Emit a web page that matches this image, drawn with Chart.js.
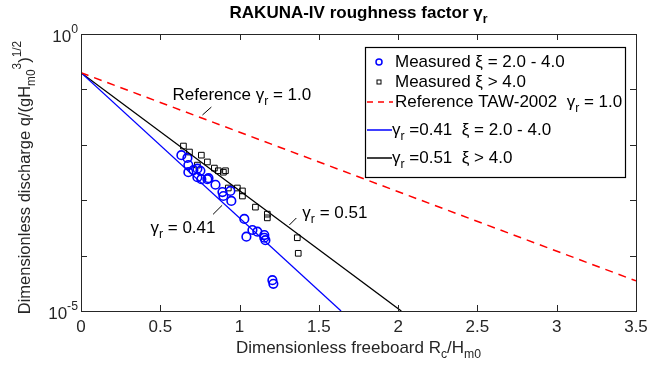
<!DOCTYPE html>
<html>
<head>
<meta charset="utf-8">
<script src="https://cdn.jsdelivr.net/npm/chart.js@4.4.1/dist/chart.umd.min.js"></script>
<style>
  html, body { margin: 0; padding: 0; background: #fff; }
  #wrap { width: 658px; height: 367px; }
</style>
</head>
<body>
<div id="wrap"><canvas id="chart" width="658" height="367"></canvas></div>
<script>
// Measured, xi = 2.0 - 4.0 (blue circles)
const blueX = [0.633, 0.671, 0.677, 0.677, 0.709, 0.734, 0.753, 0.734, 0.759, 0.797, 0.804, 0.848, 0.892,
               0.898, 0.942, 0.948, 1.030, 1.043, 1.081, 1.112, 1.156, 1.156, 1.163, 1.207, 1.213];
const blueY = [6.5e-3, 5.8e-3, 4.3e-3, 3.2e-3, 3.5e-3, 3.7e-3, 3.4e-3, 2.6e-3, 2.4e-3, 2.4e-3, 2.5e-3, 1.9e-3, 1.4e-3,
               1.19e-3, 1.47e-3, 9.7e-4, 4.6e-4, 2.2e-4, 2.9e-4, 2.7e-4, 2.35e-4, 2.1e-4, 1.9e-4, 3.6e-5, 3.1e-5];
// Measured, xi > 4.0 (black squares)
const blackX = [0.646, 0.684, 0.759, 0.797, 0.734, 0.841, 0.866, 0.898, 0.911, 0.929, 0.986, 1.018, 1.018,
                1.100, 1.175, 1.175, 1.364, 1.370];
const blackY = [9.5e-3, 7.4e-3, 6.5e-3, 4.9e-3, 4.3e-3, 3.8e-3, 3.4e-3, 3.2e-3, 3.4e-3, 1.66e-3, 1.66e-3, 1.47e-3, 1.19e-3,
                7.5e-4, 5.6e-4, 4.8e-4, 2.1e-4, 1.1e-4];
// fitted / reference lines (end points)
const refX = [0, 3.5],   refY = [0.2, 3.5e-5];
const fit41X = [0, 1.64], fit41Y = [0.2, 1e-5];
const fit51X = [0, 2.02], fit51Y = [0.2, 1e-5];

const xTicks = [0, 0.5, 1, 1.5, 2, 2.5, 3, 3.5];
const xTickLabels = ['0', '0.5', '1', '1.5', '2', '2.5', '3', '3.5'];
const yTicks = [1e-5, 1e-4, 1e-3, 1e-2, 1e-1, 1];
const yLabelVals = [1, 1e-5];
const yLabelExps = ['0', '-5'];

const FONT = '"Liberation Sans", Arial, Helvetica, sans-serif';
const AX = '#262626';

const pts = (xs, ys) => xs.map((x, i) => ({ x: x, y: ys[i] }));

// text with sub/superscripts: parts = [[text, mode]]
function drawRich(ctx, parts, x, y, size, align, weight) {
    let w = 0;
    const segs = parts.map(([t, m]) => {
        const s = m ? size * 0.72 : size;
        ctx.font = `${weight || 'normal'} ${s}px ${FONT}`;
        const sw = ctx.measureText(t).width;
        w += sw;
        return { t, m, s, sw };
    });
    let cx = align === 'center' ? x - w / 2 : align === 'right' ? x - w : x;
    ctx.textAlign = 'left';
    ctx.textBaseline = 'middle';
    segs.forEach(g => {
        ctx.font = `${weight || 'normal'} ${g.s}px ${FONT}`;
        const dy = g.m === 'sub' ? size * 0.4 : g.m === 'sup' ? -size * 0.45 : 0;
        ctx.fillText(g.t, cx, y + dy);
        cx += g.sw;
    });
    return w;
}

const decor = {
    id: 'decor',
    afterDraw(chart) {
        const ctx = chart.ctx, a = chart.chartArea;
        const xs = chart.scales.x, ys = chart.scales.y;
        ctx.save();
        ctx.fillStyle = AX;
        ctx.strokeStyle = AX;
        ctx.lineWidth = 1;

        // ticks (inward)
        ctx.beginPath();
        xTicks.forEach(v => {
            const px = Math.round(xs.getPixelForValue(v)) + 0.5;
            ctx.moveTo(px, a.bottom); ctx.lineTo(px, a.bottom - 6);
            ctx.moveTo(px, a.top); ctx.lineTo(px, a.top + 6);
        });
        yTicks.forEach(v => {
            const py = Math.round(ys.getPixelForValue(v)) + 0.5;
            ctx.moveTo(a.left, py); ctx.lineTo(a.left + 6, py);
            ctx.moveTo(a.right, py); ctx.lineTo(a.right - 6, py);
        });
        ctx.stroke();

        // box
        ctx.strokeRect(Math.round(a.left) + 0.5, Math.round(a.top) + 0.5,
                       Math.round(a.right - a.left), Math.round(a.bottom - a.top));

        // tick labels
        ctx.font = `17px ${FONT}`;
        ctx.textAlign = 'center';
        ctx.textBaseline = 'middle';
        xTicks.forEach((v, i) => ctx.fillText(xTickLabels[i], xs.getPixelForValue(v), a.bottom + 16));
        yLabelVals.forEach((v, i) => {
            drawRich(ctx, [['10', ''], [yLabelExps[i], 'sup']], a.left - 3, ys.getPixelForValue(v) + 3, 17, 'right');
        });

        // title and axis titles
        ctx.fillStyle = '#000';
        drawRich(ctx, [['RAKUNA-IV roughness factor γ', ''], ['r', 'sub']], (a.left + a.right) / 2, 13, 17, 'center', 'bold');
        ctx.fillStyle = AX;
        drawRich(ctx, [['Dimensionless freeboard R', ''], ['c', 'sub'], ['/H', ''], ['m0', 'sub']],
                 (a.left + a.right) / 2, 348, 17, 'center');
        ctx.save();
        ctx.translate(25, (a.top + a.bottom) / 2 + 5);
        ctx.rotate(-Math.PI / 2);
        drawRich(ctx, [['Dimensionless discharge q/(gH', ''], ['m0', 'sub'], ['3', 'sup'], [')', ''], ['1/2', 'sup']],
                 0, 0, 16.5, 'center');
        ctx.restore();

        // annotations
        ctx.fillStyle = '#000';
        ctx.strokeStyle = '#000';
        const P = (x, y) => [xs.getPixelForValue(x), ys.getPixelForValue(y)];
        const lead = (p, q) => { ctx.beginPath(); ctx.moveTo(...P(...p)); ctx.lineTo(...P(...q)); ctx.stroke(); };
        let p = P(0.577, 0.079);
        drawRich(ctx, [['Reference γ', ''], ['r', 'sub'], [' = 1.0', '']], p[0], p[1], 17, 'left');
        lead([0.822, 0.048], [0.766, 0.0345]);
        p = P(0.438, 3.15e-4);
        drawRich(ctx, [['γ', ''], ['r', 'sub'], [' = 0.41', '']], p[0], p[1], 17, 'left');
        lead([0.833, 5.56e-4], [0.890, 8.09e-4]);
        p = P(1.396, 5.87e-4);
        drawRich(ctx, [['γ', ''], ['r', 'sub'], [' = 0.51', '']], p[0], p[1], 17, 'left');
        lead([1.314, 3.57e-4], [1.358, 4.77e-4]);

        // legend
        const L = { x: 365.5, y: 47.5, w: 260, h: 130 };
        ctx.fillStyle = '#fff';
        ctx.fillRect(L.x, L.y, L.w, L.h);
        ctx.strokeStyle = '#000';
        ctx.lineWidth = 1.2;
        ctx.strokeRect(L.x, L.y, L.w, L.h);
        const tx = 395, rows = [62, 82, 102, 130, 158];
        ctx.lineWidth = 1.5;
        ctx.strokeStyle = '#0000ff';
        ctx.beginPath(); ctx.arc(379, rows[0], 3, 0, Math.PI * 2); ctx.stroke();
        ctx.lineWidth = 1;
        ctx.strokeStyle = '#000';
        ctx.strokeRect(377, rows[1] - 2, 4, 4);
        ctx.lineWidth = 1.5;
        ctx.strokeStyle = '#ff0000';
        ctx.setLineDash([6, 5]);
        ctx.beginPath(); ctx.moveTo(367, rows[2]); ctx.lineTo(393, rows[2]); ctx.stroke();
        ctx.setLineDash([]);
        ctx.strokeStyle = '#0000ff';
        ctx.beginPath(); ctx.moveTo(367, rows[3]); ctx.lineTo(392, rows[3]); ctx.stroke();
        ctx.strokeStyle = '#000';
        ctx.beginPath(); ctx.moveTo(367, rows[4]); ctx.lineTo(392, rows[4]); ctx.stroke();
        ctx.fillStyle = '#000';
        drawRich(ctx, [['Measured ξ = 2.0 - 4.0', '']], tx, rows[0], 17, 'left');
        drawRich(ctx, [['Measured ξ > 4.0', '']], tx, rows[1], 17, 'left');
        drawRich(ctx, [['Reference TAW-2002  γ', ''], ['r', 'sub'], [' = 1.0', '']], tx, rows[2], 17, 'left');
        drawRich(ctx, [['γ', ''], ['r', 'sub'], [' =0.41  ξ = 2.0 - 4.0', '']], 392, rows[3], 17, 'left');
        drawRich(ctx, [['γ', ''], ['r', 'sub'], [' =0.51  ξ > 4.0', '']], 392, rows[4], 17, 'left');
        ctx.restore();
    }
};

new Chart(document.getElementById('chart'), {
    type: 'scatter',
    data: {
        datasets: [
            { label: 'Reference TAW-2002', type: 'line', data: pts(refX, refY), borderColor: '#ff0000',
              borderWidth: 1.5, borderDash: [8, 6], pointRadius: 0, fill: false },
            { label: 'gamma 0.41', type: 'line', data: pts(fit41X, fit41Y), borderColor: '#0000ff',
              borderWidth: 1.3, pointRadius: 0, fill: false },
            { label: 'gamma 0.51', type: 'line', data: pts(fit51X, fit51Y), borderColor: '#000000',
              borderWidth: 1.3, pointRadius: 0, fill: false },
            { label: 'Measured xi 2-4', data: pts(blueX, blueY), pointStyle: 'circle', pointRadius: 4.3,
              borderColor: '#0000ff', borderWidth: 1.6, backgroundColor: 'rgba(0,0,0,0)' },
            { label: 'Measured xi > 4', data: pts(blackX, blackY), pointStyle: 'rect', pointRadius: 4,
              borderColor: '#000000', borderWidth: 1, backgroundColor: 'rgba(0,0,0,0)' }
        ]
    },
    options: {
        responsive: false,
        animation: false,
        devicePixelRatio: 1,
        layout: { padding: { left: 81, top: 34, right: 22, bottom: 56 } },
        plugins: { legend: { display: false }, tooltip: { enabled: false }, title: { display: false } },
        scales: {
            x: { type: 'linear', display: false, min: 0, max: 3.5 },
            y: { type: 'logarithmic', display: false, min: 1e-5, max: 1 }
        }
    },
    plugins: [decor]
});
</script>
</body>
</html>
